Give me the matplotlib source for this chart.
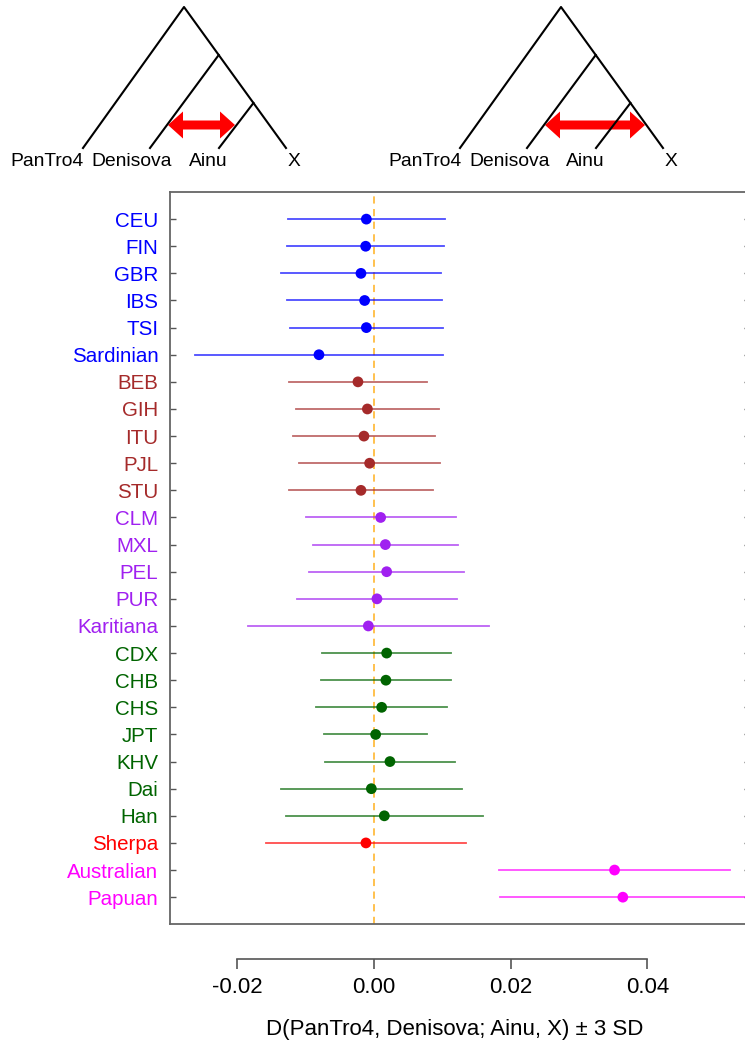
import numpy as np
import matplotlib.pyplot as plt
from matplotlib.patches import Polygon

plt.rcParams['font.family'] = ['Liberation Sans', 'DejaVu Sans']

# populations, top to bottom
pops = ["CEU", "FIN", "GBR", "IBS", "TSI", "Sardinian",
        "BEB", "GIH", "ITU", "PJL", "STU",
        "CLM", "MXL", "PEL", "PUR", "Karitiana",
        "CDX", "CHB", "CHS", "JPT", "KHV", "Dai", "Han",
        "Sherpa",
        "Australian", "Papuan"]
group_sizes = [6, 5, 5, 7, 1, 2]
group_colors = ["#0000FF", "#A52A2A", "#A020F0", "#006400", "#FF0000", "#FF00FF"]

# D(PanTro4, Denisova; Ainu, X) and its standard deviation
d_stat = [-0.00111, -0.00121, -0.00190, -0.00136, -0.00111, -0.00804,
          -0.00234, -0.00096, -0.00146, -0.00063, -0.00190,
          0.00098, 0.00167, 0.00186, 0.00044, -0.00082,
          0.00186, 0.00175, 0.00113, 0.00025, 0.00234, -0.00038, 0.00152,
          -0.00117,
          0.03519, 0.03640]
d_sd = [0.00384, 0.00383, 0.00391, 0.00379, 0.00372, 0.00604,
        0.00335, 0.00348, 0.00347, 0.00344, 0.00352,
        0.00366, 0.00354, 0.00377, 0.00389, 0.00589,
        0.00313, 0.00315, 0.00318, 0.00250, 0.00318, 0.00440, 0.00481,
        0.00488,
        0.00565, 0.00599]

colors = np.repeat(group_colors, group_sizes)
n = len(pops)
ypos = np.arange(n, 0, -1)
d_stat = np.array(d_stat)
d_sd = np.array(d_sd)
xlim = (-0.0299, 0.0550)

W, H = 745, 1046
fig = plt.figure(figsize=(W / 100, H / 100), dpi=100)

# --- tree diagrams (pixel coordinates of the figure) ---
tree_ax = fig.add_axes([0, 0, 1, 1])
tree_ax.set_xlim(0, W)
tree_ax.set_ylim(H, 0)
tree_ax.axis("off")


def draw_arrow(ax, x0, x1, y, body=4.5, head=13.5, head_len=15):
    pts = [(x0, y), (x0 + head_len, y - head), (x0 + head_len, y - body),
           (x1 - head_len, y - body), (x1 - head_len, y - head), (x1, y),
           (x1 - head_len, y + head), (x1 - head_len, y + body),
           (x0 + head_len, y + body), (x0 + head_len, y + head)]
    ax.add_patch(Polygon(pts, closed=True, color="#FF0000", lw=0))


def draw_tree(ax, apex_x, arrow_x0, arrow_x1, label_xs):
    top, leaf = 7, 148
    left = apex_x - 101
    right = apex_x + 102
    slope = (right - apex_x) / (leaf - top)
    den_y, ain_y = 55, 103
    den_join = apex_x + slope * (den_y - top)
    ain_join = apex_x + slope * (ain_y - top)
    kw = dict(color="black", lw=1.5)
    ax.plot([left, apex_x, right], [leaf, top, leaf], **kw)
    ax.plot([den_join, apex_x - 34], [den_y, leaf], **kw)
    ax.plot([ain_join, apex_x + 35], [ain_y, leaf], **kw)
    draw_arrow(ax, arrow_x0, arrow_x1, 125)
    for lab, lx in zip(["PanTro4", "Denisova", "Ainu", "X"], label_xs):
        ax.text(lx, 162, lab, ha="center", va="center", fontsize=13.9)


draw_tree(tree_ax, 184, 168, 235, [47, 132, 208, 294])
draw_tree(tree_ax, 561, 545, 645, [425, 510, 585, 671])

# --- main panel ---
left_px, right_px, top_px, bot_px = 169.5, 750, 192, 924.3
ax = fig.add_axes([left_px / W, 1 - bot_px / H,
                   (right_px - left_px) / W, (bot_px - top_px) / H])
ax.set_xlim(xlim)
ax.set_ylim(0, n + 1)

ax.axvline(0, color="#FFA500", ls=(0, (4, 3)), lw=1.3, alpha=0.75, zorder=1)
for y, d, s, c in zip(ypos, d_stat, d_sd, colors):
    ax.plot([d - 3 * s, d + 3 * s], [y, y], color=c, lw=1.3, alpha=0.7, zorder=2)
ax.scatter(d_stat, ypos, s=60, c=colors, zorder=3, linewidths=0)

ax.set_yticks(ypos)
ax.set_yticklabels(pops, fontsize=14.8)
for lab, c in zip(ax.get_yticklabels(), colors):
    lab.set_color(c)
ax.tick_params(axis="y", direction="in", length=4.5, width=1, color="#555555",
               pad=8, right=True)
ax.tick_params(axis="x", bottom=False, labelbottom=False)
for sp in ax.spines.values():
    sp.set_color("#666666")
    sp.set_linewidth(1.3)

# detached x axis below the box
xax_y = 958.7
xax = fig.add_axes([left_px / W, 1 - xax_y / H, (right_px - left_px) / W, 0.001])
xax.set_xlim(xlim)
xax.patch.set_visible(False)
for name in ["top", "left", "right"]:
    xax.spines[name].set_visible(False)
xax.spines["bottom"].set_bounds(-0.02, 0.04)
xax.spines["bottom"].set_color("#555555")
xax.spines["bottom"].set_linewidth(1.2)
xax.set_yticks([])
xax.set_xticks([-0.02, 0.0, 0.02, 0.04])
xax.set_xticklabels(["-0.02", "0.00", "0.02", "0.04"], fontsize=16)
xax.tick_params(axis="x", direction="out", length=7.5, width=1.2, color="#555555",
                pad=6)

fig.text(455 / W, 1 - 1030 / H, "D(PanTro4, Denisova; Ainu, X) \u00b1 3 SD",
         ha="center", va="center", fontsize=16)

fig.savefig("out.png", dpi=100)
